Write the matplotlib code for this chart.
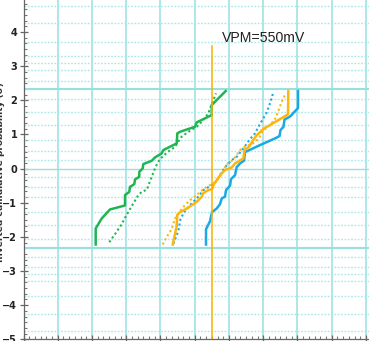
import matplotlib
matplotlib.use("Agg")
import matplotlib.pyplot as plt
from matplotlib.ticker import MultipleLocator
from statistics import NormalDist

# ---- data (x in mV, y in sigma / inverted cumulative probability) ----
green_solid_mv = [210.8, 210.8, 228.3, 252.6, 296.4, 296.4, 308.9, 311.0, 323.5, 325.6,
                  338.1, 338.1, 348.0, 349.8, 374.3, 383.9, 403.5, 408.2, 447.3, 449.1,
                  456.9, 500.7, 505.7, 549.5, 549.5, 590.4]
green_solid_z = [-2.223, -1.754, -1.460, -1.196, -1.079, -0.777, -0.680, -0.534, -0.455, -0.317,
                 -0.240, -0.094, 0.006, 0.132, 0.229, 0.328, 0.446, 0.543, 0.739, 1.032,
                 1.079, 1.226, 1.355, 1.569, 1.862, 2.273]

green_dot_mv = [250.5, 270.1, 286.7, 297.8, 308.1, 320.6, 335.2, 346.0, 360.6, 365.0,
                374.3, 383.9, 392.7, 400.0, 418.1, 442.4, 452.0, 461.9, 480.3, 505.7,
                525.0, 539.6, 549.5, 562.1]
green_dot_z = [-2.155, -1.877, -1.628, -1.413, -1.232, -1.021, -0.777, -0.674, -0.616, -0.484,
               -0.240, 0.006, 0.191, 0.293, 0.463, 0.639, 0.786, 0.938, 1.070, 1.226,
               1.422, 1.619, 1.891, 2.205]

orange_solid_mv = [435.7, 447.3, 449.1, 457.0, 476.5, 505.7, 520.3, 525.0, 539.6, 550.4,
                   556.3, 568.8, 579.6, 588.4, 607.9, 617.6, 641.8, 645.3, 658.5, 668.7,
                   678.9, 690.6, 702.3, 719.8, 744.0, 772.3, 773.2]
orange_solid_z = [-2.223, -1.686, -1.349, -1.276, -1.173, -0.974, -0.827, -0.718, -0.630, -0.601,
                  -0.455, -0.264, -0.132, -0.044, 0.035, 0.152, 0.299, 0.543, 0.639, 0.806,
                  0.953, 1.070, 1.179, 1.276, 1.422, 1.589, 2.273]

orange_dot_mv = [406.5, 418.1, 432.7, 442.4, 457.0, 471.6, 486.2, 505.7, 515.4, 534.9,
                 554.2, 568.8, 579.6, 593.3, 611.7, 632.2, 646.8, 671.0, 687.7, 697.9,
                 719.8, 734.4, 744.0, 754.8, 766.5]
orange_dot_z = [-2.223, -2.000, -1.774, -1.460, -1.246, -1.070, -0.924, -0.777, -0.680, -0.534,
                -0.434, -0.308, -0.132, 0.132, 0.249, 0.543, 0.639, 0.748, 0.886, 1.100,
                1.276, 1.452, 1.686, 1.979, 2.214]

blue_solid_mv = [532.9, 532.9, 544.6, 550.4, 564.1, 573.8, 578.7, 588.4, 591.3, 603.0,
                 605.9, 617.6, 622.5, 632.2, 643.9, 646.8, 690.6, 734.4, 747.5, 750.4,
                 759.2, 762.1, 778.2, 801.5, 801.5]
blue_solid_z = [-2.223, -1.774, -1.540, -1.276, -1.167, -1.041, -0.874, -0.821, -0.630, -0.499,
                -0.308, -0.191, 0.044, 0.152, 0.235, 0.484, 0.689, 0.886, 0.953, 1.129,
                1.226, 1.437, 1.525, 1.774, 2.273]

blue_dot_mv = [437.4, 452.0, 458.4, 468.7, 491.1, 505.7, 525.0, 544.6, 564.1, 578.7,
               591.3, 607.9, 622.5, 646.8, 661.4, 676.0, 685.6, 695.5, 710.1, 719.8, 728.5]
blue_dot_z = [-2.199, -1.833, -1.481, -1.276, -1.012, -0.874, -0.630, -0.513, -0.367, -0.103,
              0.073, 0.249, 0.346, 0.660, 0.865, 1.032, 1.217, 1.393, 1.642, 1.912, 2.205]

vpm_mv = 550
vpm_label = "VPM=550mV"
y_ticks = [-5, -4, -3, -2, -1, 0, 1, 2, 3, 4]
prob_levels = [0.0001, 0.001, 0.01, 0.05, 0.1, 0.2, 0.5, 2, 5, 10, 20, 30, 40,
               60, 70, 80, 90, 95, 98, 99.5, 99.8, 99.9, 99.95, 99.99, 99.999, 99.9999]
solid_prob_levels = [1, 50, 99]

# ---- styling ----
GREEN = "#1fb550"
ORANGE = "#fbb710"
BLUE = "#1aa8e6"
GRID = "#97e0e0"
GRID_DOT = "#a9e6e6"

fig = plt.figure(figsize=(3.69, 3.41), dpi=100)
ax = fig.add_axes([23.5 / 369, 1.7 / 341, 1 - 23.5 / 369, 1 - 1.7 / 341])
ax.set_xlim(0, 1008.8)
ax.set_ylim(-5, 4.94)

nd = NormalDist()
for p in prob_levels:
    ax.axhline(nd.inv_cdf(p / 100), color=GRID_DOT, lw=1.0, ls=(0, (1.2, 1.2)), zorder=1)
for p in solid_prob_levels:
    lw = 1.0 if p == 50 else 1.5
    ax.axhline(nd.inv_cdf(p / 100), color=GRID, lw=lw, zorder=1.2)

ax.xaxis.set_major_locator(MultipleLocator(100))
ax.xaxis.set_minor_locator(MultipleLocator(100 / 6))
ax.yaxis.set_minor_locator(MultipleLocator(1 / 6))
ax.set_yticks(y_ticks)
ax.grid(axis="x", which="major", color=GRID, lw=1.1, zorder=1.1)
ax.set_axisbelow(True)

dot = (0, (1, 1.3))
ax.plot(green_dot_mv, green_dot_z, color=GREEN, lw=1.5, ls=dot, zorder=3)
ax.plot(blue_dot_mv, blue_dot_z, color=BLUE, lw=1.5, ls=dot, zorder=3)
ax.plot(orange_dot_mv, orange_dot_z, color=ORANGE, lw=1.5, ls=dot, zorder=3)
ax.plot(green_solid_mv, green_solid_z, color=GREEN, lw=1.8, zorder=4)
ax.plot(blue_solid_mv, blue_solid_z, color=BLUE, lw=1.8, zorder=4)
ax.plot(orange_solid_mv, orange_solid_z, color=ORANGE, lw=1.8, zorder=4)

ax.plot([vpm_mv, vpm_mv], [-5, 3.58], color="#f7b000", lw=1.1, zorder=5)
ax.text(578, 3.72, vpm_label, fontsize=10.2, family="Liberation Sans",
        color="#222222", ha="left", va="baseline", zorder=6)

for s in ["top", "right"]:
    ax.spines[s].set_visible(False)
for s in ["left", "bottom"]:
    ax.spines[s].set_color("#666666")
    ax.spines[s].set_linewidth(0.9)

ax.tick_params(axis="both", which="major", direction="inout", length=6, width=0.9,
               color="#666666")
ax.tick_params(axis="both", which="minor", direction="in", length=2.5, width=0.8,
               color="#777777")
ax.tick_params(axis="y", which="major", labelsize=7, pad=1.5, labelcolor="#222222")
ax.tick_params(axis="x", which="major", labelbottom=False)
for lab in ax.get_yticklabels():
    lab.set_fontweight("bold")

fig.text(0.5 / 369, 0.495, "Inverted cumulative probability (σ)", rotation=90,
         fontsize=6.5, fontweight="bold", color="#333333", ha="center", va="center")

fig.savefig("out.png", dpi=100)
